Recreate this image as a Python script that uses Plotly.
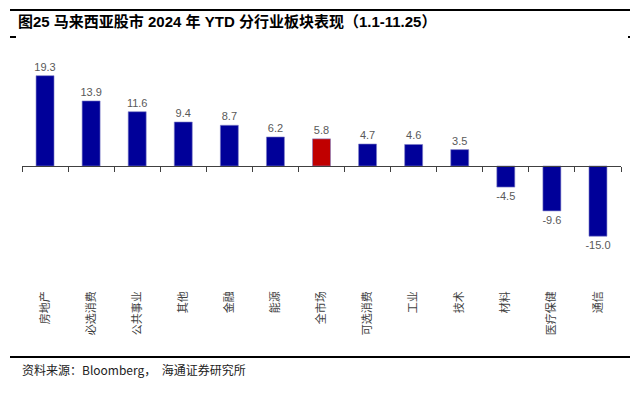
import plotly.graph_objects as go

categories = ["房地产", "必选消费", "公共事业", "其他", "金融", "能源", "全市场",
              "可选消费", "工业", "技术", "材料", "医疗保健", "通信"]
values = [19.3, 13.9, 11.6, 9.4, 8.7, 6.2, 5.8, 4.7, 4.6, 3.5, -4.5, -9.6, -15.0]
highlight = "全市场"

NAVY = "#000099"
RED = "#C00000"
colors = [RED if c == highlight else NAVY for c in categories]
labels = [f"{v:.1f}" for v in values]

W, H = 643, 393
L, R, T, B = 22, 22, 50, 105
plot_w = W - L - R
plot_h = H - T - B
zero_px = 166
px_per_unit = 4.68
ymax = (zero_px - T) / px_per_unit
ymin = -((H - B) - zero_px) / px_per_unit
zero_frac = (0 - ymin) / (ymax - ymin)
xrange_cat = [-0.5, len(categories) - 0.5]

def px_x(x):
    return (x - L) / plot_w

def px_y(y):
    return ((H - B) - y) / plot_h

FONT = "Liberation Sans, Arial, Noto Sans CJK SC"
CJK = "Noto Sans CJK SC, Liberation Sans"

fig = go.Figure()
fig.add_trace(go.Bar(
    x=categories, y=values,
    marker=dict(color=colors, line=dict(width=0.6, color="#8080c8")),
    text=labels, textposition="outside", cliponaxis=False,
    constraintext="none",
    textfont=dict(family=FONT, size=11, color="#595959"),
    hoverinfo="x+y",
))
# helper trace to anchor the zero-line category axis
fig.add_trace(go.Scatter(
    x=categories, y=values, xaxis="x2", mode="markers",
    marker=dict(opacity=0, size=1), hoverinfo="skip", showlegend=False,
))

fig.update_layout(
    width=W, height=H,
    margin=dict(l=L, r=R, t=T, b=B, autoexpand=False),
    paper_bgcolor="white", plot_bgcolor="white",
    showlegend=False,
    bargap=0.61,
    xaxis=dict(
        type="category", categoryorder="array", categoryarray=categories,
        range=xrange_cat, autorange=False,
        showline=False, ticks="", showgrid=False, zeroline=False,
        automargin=False,
        tickangle=-90, tickfont=dict(family=CJK, size=11, color="#404040"),
    ),
    xaxis2=dict(
        type="category", categoryorder="array", categoryarray=categories,
        range=xrange_cat, autorange=False,
        overlaying="x", anchor="free", position=zero_frac,
        showline=True, linecolor="#404040", linewidth=1, automargin=False,
        ticks="outside", ticklen=5, tickcolor="#404040", tickson="boundaries",
        showticklabels=False, showgrid=False, zeroline=False,
    ),
    yaxis=dict(
        range=[ymin, ymax], visible=False, showgrid=False, zeroline=False,
        automargin=False,
    ),
    title=dict(
        text="<b>图25 马来西亚股市 2024 年 YTD 分行业板块表现（1.1-11.25）</b>",
        font=dict(family=FONT, size=15, color="#000000"),
        xref="container", yref="container",
        x=18 / W, xanchor="left", y=1 - 22 / H, yanchor="middle",
    ),
)

# frame lines
fig.add_shape(type="line", xref="paper", yref="paper",
              x0=px_x(10), x1=px_x(630), y0=px_y(10), y1=px_y(10),
              line=dict(color="black", width=2))
fig.add_shape(type="line", xref="paper", yref="paper",
              x0=px_x(10), x1=px_x(630), y0=px_y(357), y1=px_y(357),
              line=dict(color="black", width=2))
fig.add_shape(type="line", xref="paper", yref="paper",
              x0=px_x(10), x1=px_x(16), y0=px_y(37), y1=px_y(37),
              line=dict(color="black", width=2))
fig.add_shape(type="line", xref="paper", yref="paper",
              x0=px_x(628), x1=px_x(630), y0=px_y(37), y1=px_y(37),
              line=dict(color="black", width=2))

fig.add_annotation(
    text="资料来源：Bloomberg，  海通证券研究所",
    xref="paper", yref="paper", x=px_x(20), y=px_y(369),
    xanchor="left", yanchor="middle", showarrow=False,
    font=dict(family=CJK, size=12, color="#222222"),
)

fig.write_html("out.html", config={"displayModeBar": False},
               post_script="document.body.style.margin='0';")
